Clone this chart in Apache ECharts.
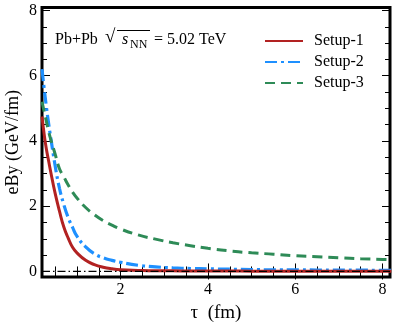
<!DOCTYPE html>
<html>
<head>
<meta charset="utf-8">
<script src="https://cdn.jsdelivr.net/npm/echarts@6/dist/echarts.min.js"></script>
<style>
html, body { margin: 0; padding: 0; background: #fff; }
#main { width: 398px; height: 327px; }
</style>
</head>
<body>
<div id="main"></div>
<script>
// tau (fm) sample points
const tau = [0.2, 0.25, 0.3, 0.35, 0.4, 0.5, 0.6, 0.7, 0.8, 0.9, 1.0, 1.2, 1.4, 1.6, 1.8, 2.0, 2.4, 2.8, 3.2, 3.6, 4.0, 4.5, 5.0, 5.5, 6.0, 6.5, 7.0, 7.5, 8.0, 8.2];
const setup1 = [4.75, 4.2, 3.75, 3.4, 3.05, 2.4, 1.85, 1.36, 1.02, 0.74, 0.57, 0.34, 0.21, 0.13, 0.08, 0.05, 0.03, 0.02, 0.02, 0.015, 0.015, 0.015, 0.01, 0.01, 0.01, 0.01, 0.01, 0.01, 0.01, 0.01];
const setup2 = [6.2, 5.6, 5.05, 4.55, 4.1, 3.25, 2.55, 2.05, 1.65, 1.35, 1.08, 0.75, 0.54, 0.42, 0.34, 0.28, 0.19, 0.14, 0.11, 0.09, 0.08, 0.07, 0.06, 0.05, 0.05, 0.045, 0.04, 0.04, 0.035, 0.035];
const setup3 = [5.2, 4.9, 4.6, 4.3, 4.05, 3.6, 3.15, 2.9, 2.65, 2.43, 2.25, 1.96, 1.74, 1.56, 1.42, 1.3, 1.12, 0.99, 0.88, 0.79, 0.71, 0.63, 0.57, 0.53, 0.48, 0.45, 0.42, 0.39, 0.37, 0.36];
const seriesNames = ["Setup-1", "Setup-2", "Setup-3"];
const xMajor = [2, 4, 6, 8];
const xMinor = [0.5, 1, 1.5, 2.5, 3, 3.5, 4.5, 5, 5.5, 6.5, 7, 7.5];
const yMajor = [0, 2, 4, 6, 8];
const yMinor = [0.5, 1, 1.5, 2.5, 3, 3.5, 4.5, 5, 5.5, 6.5, 7, 7.5];

const font = '"Liberation Serif"';
const X_MIN = 0.2, X_MAX = 8.17, Y_MIN = -0.17, Y_MAX = 8.09;

const pairs = (ys) => tau.map((t, i) => [t, ys[i]]);

function xAx(pos, vals, len, withLabel) {
	return {
		type: "value", min: X_MIN, max: X_MAX, position: pos,
		axisLine: {show: false},
		axisTick: {show: true, inside: true, length: len, customValues: vals, lineStyle: {color: "#000", width: 1}},
		axisLabel: withLabel ? {show: true, customValues: vals, fontFamily: "Liberation Serif", fontSize: 16, color: "#000", margin: 5} : {show: false},
		splitLine: {show: false}
	};
}
function yAx(pos, vals, len, withLabel) {
	return {
		type: "value", min: Y_MIN, max: Y_MAX, position: pos,
		axisLine: {show: false},
		axisTick: {show: true, inside: true, length: len, customValues: vals, lineStyle: {color: "#000", width: 1}},
		axisLabel: withLabel ? {show: true, customValues: vals, fontFamily: "Liberation Serif", fontSize: 16, color: "#000", margin: 5} : {show: false},
		splitLine: {show: false}
	};
}

const xAxes = [xAx("bottom", xMajor, 8, true), xAx("bottom", xMinor, 5, false), xAx("top", xMajor, 8, false), xAx("top", xMinor, 5, false)];
Object.assign(xAxes[0], {name: "τ  (fm)", nameLocation: "middle", nameGap: 27, nameMoveOverlap: false, nameTextStyle: {fontFamily: "Liberation Serif", fontSize: 19, color: "#000"}});
const yAxes = [yAx("left", yMajor, 8, true), yAx("left", yMinor, 5, false), yAx("right", yMajor, 8, false), yAx("right", yMinor, 5, false)];
Object.assign(yAxes[0], {name: "eBy (GeV/fm)", nameLocation: "middle", nameGap: 20, nameMoveOverlap: false, nameTextStyle: {fontFamily: "Liberation Serif", fontSize: 18, color: "#000"}});

const chart = echarts.init(document.getElementById("main"), null, {renderer: "canvas"});
const option = {
	animation: false,
	backgroundColor: "#fff",
	grid: {left: 42, right: 8, top: 7.5, bottom: 50, outerBoundsMode: "none", containLabel: false,
		show: true, borderColor: "#000", borderWidth: 3, backgroundColor: "transparent"},
	xAxis: xAxes,
	yAxis: yAxes,
	legend: {
		data: seriesNames,
		orient: "vertical", left: 259, top: 28,
		itemWidth: 38, itemHeight: 14, itemGap: 5,
		itemStyle: {opacity: 0},
		textStyle: {fontFamily: "Liberation Serif", fontSize: 16, color: "#000", padding: [0, 0, 0, 6]}
	},
	graphic: [
		{type: "text", left: 55, top: 32, style: {text: "Pb+Pb", font: "16px " + font, fill: "#000"}},
		{type: "text", left: 105, top: 28, style: {text: "√", font: "19px " + font, fill: "#000"}},
		{type: "line", shape: {x1: 117, y1: 30.5, x2: 150, y2: 30.5}, style: {stroke: "#000", lineWidth: 1}},
		{type: "text", left: 122, top: 32, style: {text: "s", font: "italic 16px " + font, fill: "#000"}},
		{type: "text", left: 130, top: 39, style: {text: "NN", font: "12px " + font, fill: "#000"}},
		{type: "text", left: 154, top: 32, style: {text: "= 5.02 TeV", font: "16px " + font, fill: "#000"}}
	],
	series: [
		{
			name: "zero", type: "line", data: [[X_MIN, 0], [X_MAX, 0]], symbol: "none", silent: true, z: 10,
			lineStyle: {color: "#000", width: 1.2, type: [8, 3, 1.5, 3]}
		},
		{
			name: seriesNames[0], type: "line", data: pairs(setup1), smooth: true, symbol: "none", z: 4,
			lineStyle: {color: "#b22222", width: 3}, itemStyle: {color: "#b22222"}
		},
		{
			name: seriesNames[1], type: "line", data: pairs(setup2), smooth: true, symbol: "none", z: 3,
			lineStyle: {color: "#1e90ff", width: 3.2, type: [12, 4, 3, 4]}, itemStyle: {color: "#1e90ff"}
		},
		{
			name: seriesNames[2], type: "line", data: pairs(setup3), smooth: true, symbol: "none", z: 3,
			lineStyle: {color: "#2e8b57", width: 3, type: [10, 6]}, itemStyle: {color: "#2e8b57"}
		}
	]
};
chart.setOption(option);
</script>
</body>
</html>
